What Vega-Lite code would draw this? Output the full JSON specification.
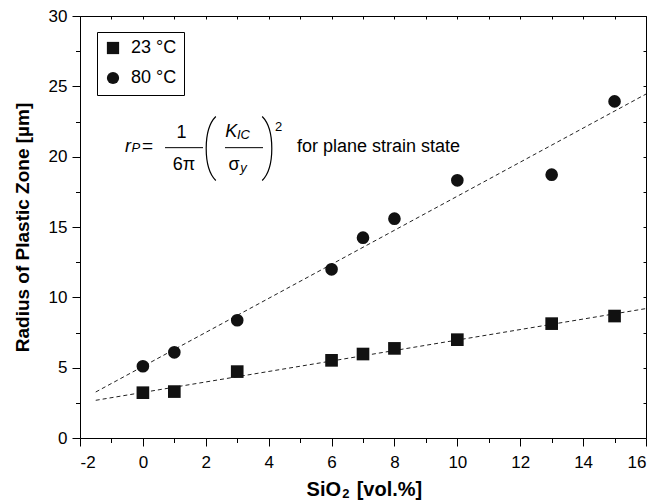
{
  "$schema": "https://vega.github.io/schema/vega-lite/v6.json",
  "width": 566,
  "height": 422,
  "autosize": {"type": "none"},
  "padding": {"left": 80, "top": 16, "right": 12, "bottom": 64},
  "background": "white",
  "config": {
    "view": {"stroke": null},
    "font": "Liberation Sans",
    "axis": {
      "grid": false,
      "labelFont": "Liberation Sans",
      "titleFont": "Liberation Sans",
      "labelColor": "black",
      "titleColor": "black",
      "tickColor": "black",
      "domainColor": "black",
      "labelFontSize": 17,
      "titleFontSize": 19,
      "titleFontWeight": "bold"
    },
    "text": {"font": "Liberation Sans", "color": "black"}
  },
  "datasets": {
    "points": [
      {"x": 0, "r": 3.22, "series": "23 °C"},
      {"x": 1, "r": 3.30, "series": "23 °C"},
      {"x": 3, "r": 4.72, "series": "23 °C"},
      {"x": 6, "r": 5.52, "series": "23 °C"},
      {"x": 7, "r": 5.97, "series": "23 °C"},
      {"x": 8, "r": 6.37, "series": "23 °C"},
      {"x": 10, "r": 6.99, "series": "23 °C"},
      {"x": 13, "r": 8.13, "series": "23 °C"},
      {"x": 15, "r": 8.67, "series": "23 °C"},
      {"x": 0, "r": 5.10, "series": "80 °C"},
      {"x": 1, "r": 6.09, "series": "80 °C"},
      {"x": 3, "r": 8.37, "series": "80 °C"},
      {"x": 6, "r": 11.99, "series": "80 °C"},
      {"x": 7, "r": 14.24, "series": "80 °C"},
      {"x": 8, "r": 15.59, "series": "80 °C"},
      {"x": 10, "r": 18.32, "series": "80 °C"},
      {"x": 13, "r": 18.72, "series": "80 °C"},
      {"x": 15, "r": 23.93, "series": "80 °C"}
    ],
    "fits": [
      {"x": -1.5, "r": 2.68, "series": "23 °C"},
      {"x": 16, "r": 9.2, "series": "23 °C"},
      {"x": -1.5, "r": 3.27, "series": "80 °C"},
      {"x": 16, "r": 24.45, "series": "80 °C"}
    ],
    "one": [{}]
  },
  "resolve": {"axis": {"x": "independent", "y": "independent"}},
  "layer": [
    {
      "data": {"name": "fits"},
      "mark": {"type": "line", "color": "#222", "strokeWidth": 1, "strokeDash": [4, 3], "clip": true},
      "encoding": {
        "x": {"field": "x", "type": "quantitative", "scale": {"domain": [-2, 16], "nice": false, "zero": false},
          "axis": {"orient": "bottom", "values": [-1, 1, 3, 5, 7, 9, 11, 13, 15], "tickSize": 4.5, "labels": false, "domain": false, "title": null}},
        "y": {"field": "r", "type": "quantitative", "scale": {"domain": [0, 30], "nice": false, "zero": false},
          "axis": {"orient": "left", "values": [2.5, 7.5, 12.5, 17.5, 22.5, 27.5], "tickSize": 4.5, "labels": false, "domain": false, "title": null}},
        "detail": {"field": "series"}
      }
    },
    {
      "data": {"name": "points"},
      "mark": {"type": "point", "filled": true, "color": "#111", "opacity": 1, "size": 160},
      "encoding": {
        "x": {"field": "x", "type": "quantitative",
          "axis": {"orient": "bottom", "values": [-2, 0, 2, 4, 6, 8, 10, 12, 14, 16], "tickSize": 8, "labelPadding": 8, "labelExpr": "datum.value + ''",
            "title": null}},
        "y": {"field": "r", "type": "quantitative",
          "axis": {"orient": "left", "values": [0, 5, 10, 15, 20, 25, 30], "tickSize": 8, "labelPadding": 5,
            "title": "Radius of Plastic Zone [µm]", "titleX": -58, "titleY": 211, "titleBaseline": "middle", "titleAngle": 270}},
        "shape": {"field": "series", "type": "nominal",
          "scale": {"domain": ["23 °C", "80 °C"], "range": ["square", "circle"]},
          "legend": {"orient": "none", "legendX": 17, "legendY": 16, "title": null, "strokeColor": "black", "padding": 7,
            "labelFontSize": 18, "labelFont": "Liberation Sans", "labelColor": "black", "symbolSize": 150,
            "symbolFillColor": "#111", "symbolStrokeColor": "#111", "rowPadding": 10, "labelOffset": 9}}
      }
    },
    {
      "data": {"name": "one"},
      "mark": {"type": "rule", "color": "black", "strokeWidth": 1},
      "encoding": {
        "x": {"datum": 0.704, "type": "quantitative",
          "axis": {"orient": "top", "values": [-2, -1, 0, 1, 2, 3, 4, 5, 6, 7, 8, 9, 10, 11, 12, 13, 14, 15, 16], "tickSize": -3, "labels": false, "title": null}},
        "x2": {"datum": 1.912},
        "y": {"datum": 20.64, "type": "quantitative",
          "axis": {"orient": "right", "values": [0, 2.5, 5, 7.5, 10, 12.5, 15, 17.5, 20, 22.5, 25, 27.5, 30], "tickSize": -3, "labels": false, "title": null}}
      }
    },
    {
      "data": {"name": "one"},
      "mark": {"type": "rule", "color": "black", "strokeWidth": 1},
      "encoding": {
        "x": {"datum": 2.611, "type": "quantitative", "axis": null},
        "x2": {"datum": 3.82},
        "y": {"datum": 20.64, "type": "quantitative", "axis": null}
      }
    },
    {
      "data": {"name": "one"},
      "mark": {"type": "point", "shape": "M0.15,-1 C-0.25,-0.6 -0.25,0.6 0.15,1", "filled": false, "stroke": "black", "strokeWidth": 1.2, "size": 4096, "opacity": 1},
      "encoding": {
        "x": {"datum": 2.166, "type": "quantitative", "axis": null},
        "y": {"datum": 20.58, "type": "quantitative", "axis": null}
      }
    },
    {
      "data": {"name": "one"},
      "mark": {"type": "point", "shape": "M-0.15,-1 C0.25,-0.6 0.25,0.6 -0.15,1", "filled": false, "stroke": "black", "strokeWidth": 1.2, "size": 4096, "opacity": 1},
      "encoding": {
        "x": {"datum": 3.947, "type": "quantitative", "axis": null},
        "y": {"datum": 20.58, "type": "quantitative", "axis": null}
      }
    },
    {
      "data": {"name": "one"},
      "mark": {"type": "text", "text": "r", "fontSize": 18, "fontStyle": "italic", "align": "left", "baseline": "alphabetic"},
      "encoding": {"x": {"datum": -0.569, "type": "quantitative", "axis": null}, "y": {"datum": 20.35, "type": "quantitative", "axis": null}}
    },
    {
      "data": {"name": "one"},
      "mark": {"type": "text", "text": "P", "fontSize": 13, "fontStyle": "italic", "align": "left", "baseline": "alphabetic"},
      "encoding": {"x": {"datum": -0.36, "type": "quantitative", "axis": null}, "y": {"datum": 20.33, "type": "quantitative", "axis": null}}
    },
    {
      "data": {"name": "one"},
      "mark": {"type": "text", "text": "=", "fontSize": 19, "align": "center", "baseline": "alphabetic"},
      "encoding": {"x": {"datum": 0.15, "type": "quantitative", "axis": null}, "y": {"datum": 20.35, "type": "quantitative", "axis": null}}
    },
    {
      "data": {"name": "one"},
      "mark": {"type": "text", "text": "1", "fontSize": 18, "align": "center", "baseline": "alphabetic"},
      "encoding": {"x": {"datum": 1.228, "type": "quantitative", "axis": null}, "y": {"datum": 21.31, "type": "quantitative", "axis": null}}
    },
    {
      "data": {"name": "one"},
      "mark": {"type": "text", "text": "6π", "fontSize": 18, "align": "center", "baseline": "alphabetic"},
      "encoding": {"x": {"datum": 1.307, "type": "quantitative", "axis": null}, "y": {"datum": 19.05, "type": "quantitative", "axis": null}}
    },
    {
      "data": {"name": "one"},
      "mark": {"type": "text", "text": "K", "fontSize": 18, "fontStyle": "italic", "align": "left", "baseline": "alphabetic"},
      "encoding": {"x": {"datum": 2.62, "type": "quantitative", "axis": null}, "y": {"datum": 21.4, "type": "quantitative", "axis": null}}
    },
    {
      "data": {"name": "one"},
      "mark": {"type": "text", "text": "IC", "fontSize": 13, "fontStyle": "italic", "align": "left", "baseline": "alphabetic"},
      "encoding": {"x": {"datum": 2.99, "type": "quantitative", "axis": null}, "y": {"datum": 21.26, "type": "quantitative", "axis": null}}
    },
    {
      "data": {"name": "one"},
      "mark": {"type": "text", "text": "σ", "fontSize": 18, "align": "left", "baseline": "alphabetic"},
      "encoding": {"x": {"datum": 2.72, "type": "quantitative", "axis": null}, "y": {"datum": 19.05, "type": "quantitative", "axis": null}}
    },
    {
      "data": {"name": "one"},
      "mark": {"type": "text", "text": "y", "fontSize": 13, "fontStyle": "italic", "align": "left", "baseline": "alphabetic"},
      "encoding": {"x": {"datum": 3.1, "type": "quantitative", "axis": null}, "y": {"datum": 18.91, "type": "quantitative", "axis": null}}
    },
    {
      "data": {"name": "one"},
      "mark": {"type": "text", "text": "2", "fontSize": 13, "align": "left", "baseline": "alphabetic"},
      "encoding": {"x": {"datum": 4.201, "type": "quantitative", "axis": null}, "y": {"datum": 21.82, "type": "quantitative", "axis": null}}
    },
    {
      "data": {"name": "one"},
      "mark": {"type": "text", "text": "for plane strain state", "fontSize": 18, "align": "left", "baseline": "alphabetic"},
      "encoding": {"x": {"datum": 4.901, "type": "quantitative", "axis": null}, "y": {"datum": 20.35, "type": "quantitative", "axis": null}}
    },
    {
      "data": {"name": "one"},
      "mark": {"type": "text", "text": "SiO", "fontSize": 20, "fontWeight": "bold", "align": "right", "baseline": "alphabetic", "clip": false},
      "encoding": {"x": {"datum": 6.3, "type": "quantitative", "axis": null}, "y": {"datum": -4.12, "type": "quantitative", "axis": null}}
    },
    {
      "data": {"name": "one"},
      "mark": {"type": "text", "text": "2", "fontSize": 13, "fontWeight": "bold", "align": "left", "baseline": "alphabetic", "clip": false},
      "encoding": {"x": {"datum": 6.34, "type": "quantitative", "axis": null}, "y": {"datum": -4.3, "type": "quantitative", "axis": null}}
    },
    {
      "data": {"name": "one"},
      "mark": {"type": "text", "text": "[vol.%]", "fontSize": 20, "fontWeight": "bold", "align": "left", "baseline": "alphabetic", "clip": false},
      "encoding": {"x": {"datum": 6.8, "type": "quantitative", "axis": null}, "y": {"datum": -4.12, "type": "quantitative", "axis": null}}
    }
  ]
}
